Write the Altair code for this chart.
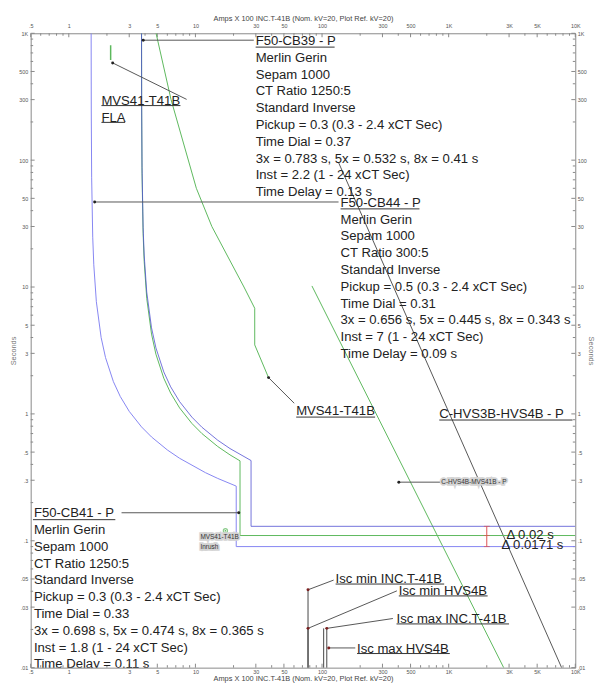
import altair as alt
import pandas as pd

FONT = "Liberation Sans"
W, H = 552, 643
XTITLE = "Amps  X  100   INC.T-41B (Nom. kV=20, Plot Ref. kV=20)"

# ---------------- axis ticks ----------------
x_major = [0.5, 1, 3, 5, 10, 30, 50, 100, 300, 500, 1000, 3000, 5000, 10000]
x_labels = [".5", "1", "3", "5", "10", "30", "50", "100", "300", "500", "1K", "3K", "5K", "10K"]
x_minor = [0.6, 0.7, 0.8, 0.9, 2, 4, 6, 7, 8, 9, 20, 40, 60, 70, 80, 90,
           200, 400, 600, 700, 800, 900, 2000, 4000, 6000, 7000, 8000, 9000]
y_major = [0.01, 0.03, 0.05, 0.1, 0.3, 0.5, 1, 3, 5, 10, 30, 50, 100, 300, 500, 1000]
y_labels = [".01", ".03", ".05", ".1", ".3", ".5", "1", "3", "5", "10", "30", "50", "100", "300", "500", "1K"]
y_minor = [0.02, 0.04, 0.06, 0.07, 0.08, 0.09, 0.2, 0.4, 0.6, 0.7, 0.8, 0.9,
           2, 4, 6, 7, 8, 9, 20, 40, 60, 70, 80, 90, 200, 400, 600, 700, 800, 900]

# ---------------- curves (Amps x 100, seconds) ----------------
cb44_I = [1.5011, 1.5045, 1.515, 1.545, 1.575, 1.65, 1.8, 1.95, 2.25, 2.55, 3.0, 3.75, 4.5, 6.0, 7.5, 12, 15, 21, 21, 10000]
cb44_t = [1000, 244.0, 73.44, 24.72, 14.97, 7.66, 4.001, 2.778, 1.795, 1.370, 1.047, 0.7903, 0.6579, 0.5199, 0.4468, 0.3442, 0.3101, 0.2697, 0.09, 0.09]

cb41_I = [3.7529, 3.7613, 3.7875, 3.8625, 3.9375, 4.125, 4.5, 4.875, 5.625, 6.375, 7.5, 9.375, 11.25, 15.0, 18.75, 22.5, 22.5, 10000]
cb41_t = [1000, 259.7, 78.16, 26.31, 15.93, 8.153, 4.258, 2.957, 1.9105, 1.458, 1.1144, 0.8412, 0.7002, 0.5533, 0.4755, 0.4264, 0.11, 0.11]

cb39_I = [3.7533, 3.7613, 3.7875, 3.8625, 3.9375, 4.125, 4.5, 4.875, 5.625, 6.375, 7.5, 9.375, 11.25, 15.0, 18.75, 27.5, 27.5, 10000]
cb39_t = [1000, 291.1, 87.63, 29.50, 17.86, 9.141, 4.774, 3.315, 2.142, 1.635, 1.2494, 0.9431, 0.7851, 0.6204, 0.5332, 0.4290, 0.13, 0.13]

tx_I = [4.89, 6.42, 10.17, 13.48, 24.18, 29.4, 29.4, 37.8]
tx_t = [1000, 300, 60, 30, 10, 6.8, 3.5, 1.93]

fla_I = [2.14, 2.14]
fla_t = [806, 616]

cab1_I = [83.2, 2720]
cab1_t = [10.2, 0.01]
cab2_I = [135, 7800]
cab2_t = [95.8, 0.01]

inrush_I = [17.25]
inrush_t = [0.12]

isc_I = [77.5, 77.5, 103, 109]
isc_top = [0.0411, 0.0204, 0.0204, 0.0204]

# ---------------- annotations ----------------
blocks = [
    ("F50-CB39 - P\nMerlin Gerin\nSepam 1000\nCT Ratio 1250:5\nStandard Inverse\n"
     "Pickup = 0.3 (0.3 - 2.4  xCT Sec)\nTime Dial = 0.37\n3x = 0.783 s, 5x = 0.532 s, 8x = 0.41 s\n"
     "Inst = 2.2 (1 - 24  xCT Sec)\nTime Delay = 0.13 s", 29.9, 982),
    ("F50-CB44 - P\nMerlin Gerin\nSepam 1000\nCT Ratio 300:5\nStandard Inverse\n"
     "Pickup = 0.5 (0.3 - 2.4  xCT Sec)\nTime Dial = 0.31\n3x = 0.656 s, 5x = 0.445 s, 8x = 0.343 s\n"
     "Inst = 7 (1 - 24  xCT Sec)\nTime Delay = 0.09 s", 140, 52.1),
    ("F50-CB41 - P\nMerlin Gerin\nSepam 1000\nCT Ratio 1250:5\nStandard Inverse\n"
     "Pickup = 0.3 (0.3 - 2.4  xCT Sec)\nTime Dial = 0.33\n3x = 0.698 s, 5x = 0.474 s, 8x = 0.365 s\n"
     "Inst = 1.8 (1 - 24  xCT Sec)\nTime Delay = 0.11 s", 0.53, 0.1861),
    ("MVS41-T41B\nFLA", 1.81, 331.3),
    ("MVS41-T41B", 62.5, 1.192),
    ("C-HVS3B-HVS4B - P", 843, 1.129),
    ("Isc min INC.T-41B", 128, 0.0571),
    ("Isc min HVS4B", 404, 0.0458),
    ("Isc max INC.T-41B", 387.5, 0.0274),
    ("Isc max HVS4B", 189, 0.01593),
    ("\u0394 0.02 s", 2857, 0.1256),
    ("\u0394 0.0171 s", 2611, 0.1050),
]
small_blocks = [
    ("MVS41-T41B\nInrush", 10.95, 0.1121),
    ("C-HVS4B-MVS41B - P", 874, 0.3056),
]
underlines = [
    (29.9, 125.7, 778), (140, 588, 41.3), (0.521, 2.33, 0.1467),
    (1.81, 7.61, 269.2), (1.81, 2.785, 198.5), (62.5, 262.5, 0.944),
    (843, 9505, 0.8948), (128, 922, 0.0456), (404, 2031, 0.03675),
    (387.5, 2998, 0.02211), (189, 1021, 0.01292),
]
pointers = [
    (3.87, 882, 28.9, 882), (1.6, 46.8, 135, 46.8), (22.0, 0.1663, 2.61, 0.1663),
    (2.22, 584, 8.52, 301.3), (37.8, 1.932, 60.3, 1.213), (404, 0.2897, 860, 0.2897),
]
isc_pointers = [
    (77.5, 0.0411, 123.5, 0.049), (77.5, 0.0204, 390, 0.0403),
    (109, 0.0204, 362.7, 0.0244), (113, 0.0143, 183, 0.0143),
]
delta_I = [2000]
delta_t = [0.09, 0.11, 0.13]

# ---------------- build ----------------
xs = alt.Scale(type="log", domain=[0.5, 10000], nice=False)
ys = alt.Scale(type="log", domain=[0.01, 1000], nice=False)


def lbl_expr(vals, lbls):
    return "[" + ",".join(repr(l) for l in lbls) + "][indexof([" + ",".join(repr(v) for v in vals) + "], datum.value)]"


def xaxis(orient):
    top = orient == "top"
    return alt.Axis(orient=orient, values=x_major, labelExpr=lbl_expr(x_major, x_labels),
                    ticks=False, domain=False, grid=False, labelFont=FONT, labelFontSize=5.5,
                    labelColor="#555", labelPadding=5 if top else 2, labelOverlap=False,
                    labelFlush=False, labelBound=False, title=XTITLE, titleFont=FONT,
                    titleFontSize=7.5, titleFontWeight="normal", titleColor="#444",
                    titlePadding=1 if top else 0)


def yaxis(orient):
    right = orient == "right"
    return alt.Axis(orient=orient, values=y_major, labelExpr=lbl_expr(y_major, y_labels),
                    ticks=False, domain=False, grid=False, labelFont=FONT, labelFontSize=5.5,
                    labelColor="#555", labelPadding=2 if right else 3, labelOverlap=False,
                    labelFlush=False, labelBound=False, title="Seconds", titleFont=FONT,
                    titleFontSize=7.5, titleFontWeight="normal", titleColor="#777",
                    titlePadding=0 if right else 1)


def X(f="I"):
    return alt.X(f"{f}:Q", scale=xs, axis=None)


def Y(f="t"):
    return alt.Y(f"{f}:Q", scale=ys, axis=None)


carrier = pd.DataFrame({"I": [1.0], "t": [1.0]})
ax1 = alt.Chart(carrier).mark_point(opacity=0).encode(
    x=alt.X("I:Q", scale=xs, axis=xaxis("bottom")), y=alt.Y("t:Q", scale=ys, axis=yaxis("left")))
ax2 = alt.Chart(carrier).mark_point(opacity=0).encode(
    x=alt.X("I:Q", scale=xs, axis=xaxis("top")), y=alt.Y("t:Q", scale=ys, axis=yaxis("right")))

layers = [ax1, ax2]

# in-plot ticks
for vals, ln in ((x_major, 4), (x_minor, 2.5)):
    d = pd.DataFrame({"v": vals})
    layers.append(alt.Chart(d).mark_rule(color="#888", strokeWidth=1).encode(
        x=X("v"), y=alt.value(0), y2=alt.value(ln)))
    layers.append(alt.Chart(d).mark_rule(color="#888", strokeWidth=1).encode(
        x=X("v"), y=alt.value(H), y2=alt.value(H - ln)))
for vals, ln in ((y_major, 4), (y_minor, 2.5)):
    d = pd.DataFrame({"v": vals})
    layers.append(alt.Chart(d).mark_rule(color="#888", strokeWidth=1).encode(
        y=Y("v"), x=alt.value(0), x2=alt.value(ln)))
    layers.append(alt.Chart(d).mark_rule(color="#888", strokeWidth=1).encode(
        y=Y("v"), x=alt.value(W), x2=alt.value(W - ln)))


def line(I, t, color, width=1.0, opacity=1.0):
    d = pd.DataFrame({"I": I, "t": t, "o": list(range(len(I)))})
    return alt.Chart(d).mark_line(color=color, strokeWidth=width, strokeOpacity=opacity,
                                  clip=True).encode(x=X(), y=Y(), order="o:Q")


GREEN = "#5cb85c"
layers += [
    line(cab2_I, cab2_t, "#555555"),
    line(cab1_I, cab1_t, GREEN),
    line(tx_I, tx_t, GREEN),
    line(fla_I, fla_t, GREEN, 1.5),
    line(cb41_I, cb41_t, GREEN),
    line(cb44_I, cb44_t, "#8585f2"),
    line(cb39_I, cb39_t, "#4f4fd2", 1.0, 0.8),
]

# Isc markers
isc = pd.DataFrame({"I": isc_I, "t": isc_top, "b": [0.01] * len(isc_I)})
layers.append(alt.Chart(isc).mark_rule(color="#444", strokeWidth=1).encode(x=X(), y=Y(), y2="b:Q"))

# inrush point
layers.append(alt.Chart(pd.DataFrame({"I": inrush_I, "t": inrush_t})).mark_point(
    color=GREEN, size=18, strokeWidth=1.2).encode(x=X(), y=Y()))
layers.append(alt.Chart(pd.DataFrame({"I": inrush_I, "t": inrush_t})).mark_circle(
    color=GREEN, size=3, opacity=1).encode(x=X(), y=Y()))

# delta markers
dd = pd.DataFrame({"I": delta_I * 3, "t": delta_t})
layers.append(alt.Chart(pd.DataFrame({"I": delta_I, "t": [delta_t[0]], "t2": [delta_t[-1]]})).mark_rule(
    color="#e05050", strokeWidth=1).encode(x=X(), y=Y(), y2="t2:Q"))
layers.append(alt.Chart(dd).mark_tick(color="#e05050", orient="horizontal", size=6, thickness=1).encode(
    x=X(), y=Y()))

# pointers
for pts, dot in ((pointers, "#222"), (isc_pointers, "#7a1f1f")):
    dfp = pd.DataFrame(pts, columns=["I", "t", "I2", "t2"])
    layers.append(alt.Chart(dfp).mark_rule(color="#555", strokeWidth=1, clip=True).encode(
        x=X(), y=Y(), x2="I2:Q", y2="t2:Q"))
    layers.append(alt.Chart(dfp).mark_circle(color=dot, size=9, opacity=1).encode(x=X(), y=Y()))

# underlines
ul = pd.DataFrame(underlines, columns=["I", "I2", "t"])
layers.append(alt.Chart(ul).mark_rule(color="#333", strokeWidth=1, clip=True).encode(
    x=X(), x2="I2:Q", y=Y()))

# text blocks
tb = pd.DataFrame(blocks, columns=["txt", "I", "t"])
layers.append(alt.Chart(tb).mark_text(align="left", baseline="top", lineBreak="\n", lineHeight=17,
                                      font=FONT, fontSize=13.3, color="#222", clip=True).encode(
    x=X(), y=Y(), text="txt:N"))
sb = pd.DataFrame(small_blocks, columns=["txt", "I", "t"])
# light grey highlight behind the tiny labels, then the labels themselves
layers.append(alt.Chart(sb).mark_text(align="left", baseline="top", lineBreak="\n", lineHeight=10,
                                      font=FONT, fontSize=6.5, color="#d4d4d4", stroke="#d4d4d4",
                                      strokeWidth=3.5, clip=True).encode(
    x=X(), y=Y(), text="txt:N"))
layers.append(alt.Chart(sb).mark_text(align="left", baseline="top", lineBreak="\n", lineHeight=10,
                                      font=FONT, fontSize=6.5, color="#333", clip=True).encode(
    x=X(), y=Y(), text="txt:N"))

chart = alt.layer(*layers).resolve_axis(x="independent", y="independent").properties(
    width=W, height=H,
    padding={"left": 23, "top": 21, "right": 21, "bottom": 16},
    autosize=alt.AutoSizeParams(type="none"),
).configure_view(stroke="#888", strokeWidth=1)

chart.save("out.html", embed_options={"renderer": "svg", "actions": False})
